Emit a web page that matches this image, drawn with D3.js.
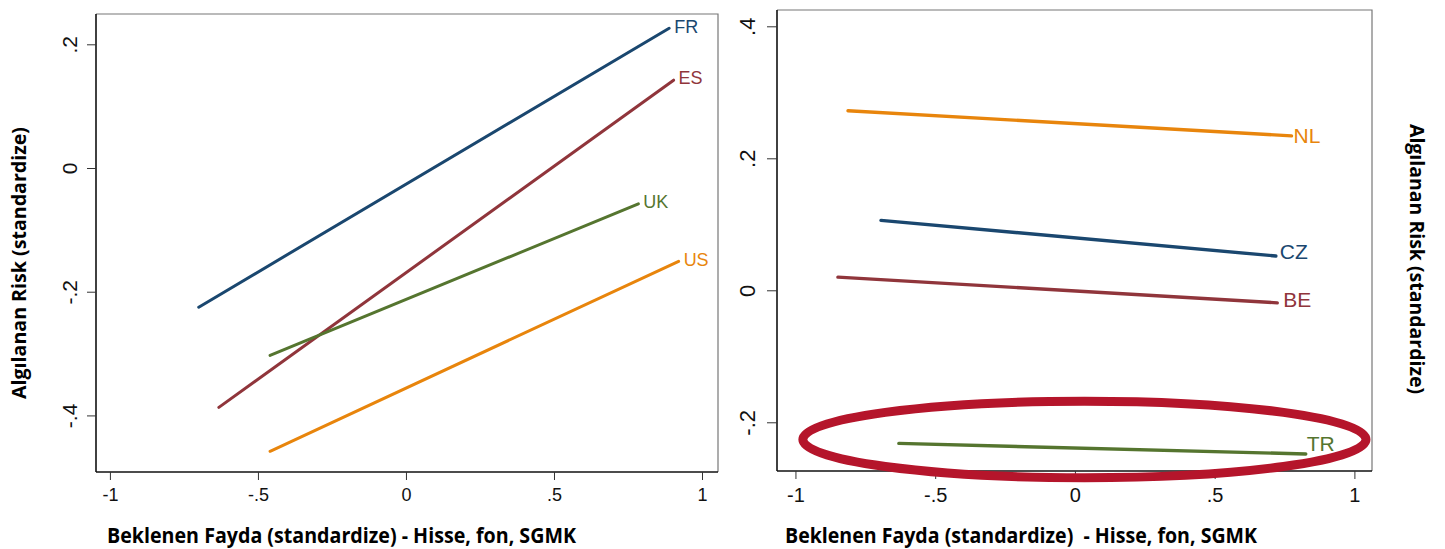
<!DOCTYPE html>
<html lang="tr">
<head>
  <meta charset="UTF-8" />
  <title>Algılanan Risk - Beklenen Fayda</title>
  <script src="https://d3js.org/d3.v7.min.js"></script>
  <style>
    body { margin: 0; background: #fff; }
    svg { display: block; }
    .tick text { font-family: "Liberation Sans", Arial, sans-serif; fill: #111; }
    .title { font-family: "Open Sans", "DejaVu Sans", sans-serif; font-weight: bold; fill: #000; white-space: pre; }
    .lab { font-family: "Liberation Sans", Arial, sans-serif; }
  </style>
</head>
<body>
  <svg width="1445" height="549"></svg>

  <script>
    // left panel: lines rising
    const leftCountries = ["FR", "ES", "UK", "US"];
    const leftX0 = [-0.700, -0.632, -0.459, -0.459];
    const leftY0 = [-0.225, -0.387, -0.303, -0.458];
    const leftX1 = [0.889, 0.904, 0.785, 0.921];
    const leftY1 = [0.226, 0.142, -0.058, -0.151];

    // right panel: flat lines
    const rightCountries = ["NL", "CZ", "BE", "TR"];
    const rightX0 = [-0.812, -0.694, -0.848, -0.630];
    const rightY0 = [0.272, 0.106, 0.020, -0.232];
    const rightX1 = [0.775, 0.719, 0.724, 0.826];
    const rightY1 = [0.234, 0.052, -0.019, -0.248];

    const xTicks = [-1, -0.5, 0, 0.5, 1];
    const xTickLabels = ["-1", "-.5", "0", ".5", "1"];
    const leftYTicks = [-0.4, -0.2, 0, 0.2];
    const leftYTickLabels = ["-.4", "-.2", "0", ".2"];
    const rightYTicks = [-0.2, 0, 0.2, 0.4];
    const rightYTickLabels = ["-.2", "0", ".2", ".4"];

    const xTitleLeft = "Beklenen Fayda (standardize) - Hisse, fon, SGMK";
    const xTitleRight = "Beklenen Fayda (standardize)  - Hisse, fon, SGMK";
    const yTitle = "Algılanan Risk (standardize)";

    const colors = {
      FR: "#1a476f", ES: "#90353b", UK: "#55752f", US: "#e8850c",
      NL: "#e8850c", CZ: "#1a476f", BE: "#90353b", TR: "#55752f"
    };

    const svg = d3.select("svg");

    function panel(o) {
      const x = d3.scaleLinear().domain(o.xDomain).range([o.left, o.right]);
      const y = d3.scaleLinear().domain(o.yDomain).range([o.bottom, o.top]);
      const g = svg.append("g");

      // top / right frame
      g.append("path")
        .attr("d", `M${o.left},${o.top}H${o.right}V${o.bottom}`)
        .attr("fill", "none").attr("stroke", "#777").attr("stroke-width", 1.2);

      const xAxis = d3.axisBottom(x).tickValues(xTicks)
        .tickFormat((d, i) => xTickLabels[i]).tickSize(8).tickPadding(6).tickSizeOuter(0);
      const gx = g.append("g").attr("transform", `translate(0,${o.bottom})`).call(xAxis);
      gx.select(".domain").attr("d", `M${o.left},0H${o.right}`).attr("stroke", "#111").attr("stroke-width", 1.6);
      gx.selectAll(".tick line").attr("stroke", "#333");
      gx.selectAll(".tick text").style("font-size", o.xFont + "px").attr("y", o.xLabY).attr("dy", 0);

      const yAxis = d3.axisLeft(y).tickValues(o.yTicks)
        .tickFormat((d, i) => o.yLabels[i]).tickSize(o.yTick).tickSizeOuter(0);
      const gy = g.append("g").attr("transform", `translate(${o.left},0)`).call(yAxis);
      gy.select(".domain").attr("d", `M0,${o.top}V${o.bottom}`).attr("stroke", "#111").attr("stroke-width", 1.6);
      gy.selectAll(".tick line").attr("stroke", "#333");
      gy.selectAll(".tick text")
        .style("font-size", o.yFont + "px")
        .attr("text-anchor", "middle")
        .attr("x", 0).attr("y", -o.yLabOff).attr("dy", 0)
        .attr("transform", "rotate(-90)");

      const line = d3.line().x(d => x(d[0])).y(d => y(d[1]));
      o.names.forEach((name, i) => {
        g.append("path")
          .attr("d", line([[o.x0[i], o.y0[i]], [o.x1[i], o.y1[i]]]))
          .attr("fill", "none")
          .attr("stroke", colors[name])
          .attr("stroke-width", o.lw)
          .attr("stroke-linecap", "round");
        const off = o.labOff[name] || [5, -2];
        g.append("text").attr("class", "lab")
          .attr("x", x(o.x1[i]) + off[0])
          .attr("y", y(o.y1[i]) + off[1])
          .attr("dy", "0.35em")
          .style("font-size", o.labFont + "px")
          .attr("fill", colors[name])
          .text(name);
      });
      return { x, y, g };
    }

    panel({
      left: 96, right: 718, top: 14, bottom: 472,
      xDomain: [-1.047, 1.054], yDomain: [-0.4915, 0.249],
      yTicks: leftYTicks, yLabels: leftYTickLabels,
      xFont: 18, xLabY: 29, yFont: 21, yLabOff: 19, yTick: 9,
      names: leftCountries, x0: leftX0, y0: leftY0, x1: leftX1, y1: leftY1,
      lw: 3, labFont: 18, labOff: {}
    });

    const right = panel({
      left: 777, right: 1372, top: 10, bottom: 471,
      xDomain: [-1.066, 1.063], yDomain: [-0.2738, 0.4247],
      yTicks: rightYTicks, yLabels: rightYTickLabels,
      xFont: 20, xLabY: 31, yFont: 22, yLabOff: 22, yTick: 10,
      names: rightCountries, x0: rightX0, y0: rightY0, x1: rightX1, y1: rightY1,
      lw: 3.4, labFont: 21, labOff: { TR: [1, -10], NL: [2, 0], CZ: [4, -4], BE: [6, -3] }
    });

    // red highlight ring round TR
    right.g.append("ellipse")
      .attr("cx", right.x(0.034))
      .attr("cy", right.y(-0.226))
      .attr("rx", right.x(1.0075) - right.x(0))
      .attr("ry", right.y(0) - right.y(0.058))
      .attr("fill", "none")
      .attr("stroke", "#b5152b")
      .attr("stroke-width", 9);

    // axis titles
    svg.append("text").attr("class", "title")
      .attr("x", 107).attr("y", 543)
      .attr("textLength", 469).attr("lengthAdjust", "spacingAndGlyphs")
      .style("font-size", "21px").text(xTitleLeft);
    svg.append("text").attr("class", "title")
      .attr("x", 785).attr("y", 543)
      .attr("textLength", 472).attr("lengthAdjust", "spacingAndGlyphs")
      .style("font-size", "21px").text(xTitleRight);
    svg.append("text").attr("class", "title")
      .attr("transform", "translate(26,263) rotate(-90)")
      .attr("text-anchor", "middle")
      .attr("textLength", 272).attr("lengthAdjust", "spacingAndGlyphs")
      .style("font-size", "20px").text(yTitle);
    svg.append("text").attr("class", "title")
      .attr("transform", "translate(1410,259) rotate(90)")
      .attr("text-anchor", "middle")
      .attr("textLength", 270).attr("lengthAdjust", "spacingAndGlyphs")
      .style("font-size", "20px").text(yTitle);
  </script>
</body>
</html>
